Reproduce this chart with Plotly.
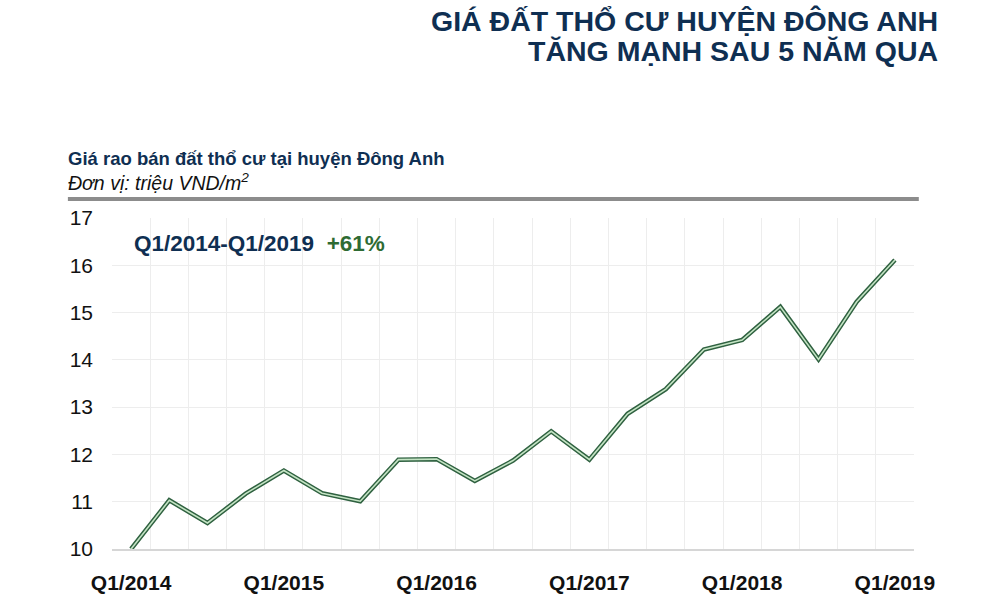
import plotly.graph_objects as go

# quarterly listing price, million VND per m2
quarters = [
    "Q1/2014", "Q2/2014", "Q3/2014", "Q4/2014",
    "Q1/2015", "Q2/2015", "Q3/2015", "Q4/2015",
    "Q1/2016", "Q2/2016", "Q3/2016", "Q4/2016",
    "Q1/2017", "Q2/2017", "Q3/2017", "Q4/2017",
    "Q1/2018", "Q2/2018", "Q3/2018", "Q4/2018",
    "Q1/2019",
]
price = [
    10.0, 11.03, 10.55, 11.17,
    11.66, 11.18, 11.01, 11.89,
    11.90, 11.44, 11.87, 12.49,
    11.89, 12.86, 13.38, 14.22,
    14.42, 15.12, 14.01, 15.23,
    16.11,
]
y_ticks = [10, 11, 12, 13, 14, 15, 16, 17]

title_lines = ["GIÁ ĐẤT THỔ CƯ HUYỆN ĐÔNG ANH", "TĂNG MẠNH SAU 5 NĂM QUA"]

NAVY = "#0f2f52"
FONT = "Liberation Sans, Arial, sans-serif"

# only the Q1 labels are shown
xlabels = [q if q.startswith("Q1") else "" for q in quarters]

fig = go.Figure()
# double line: dark outline + pale core
fig.add_trace(go.Scatter(x=quarters, y=price, mode="lines",
                         line=dict(color="#2f6140", width=4.5),
                         hoverinfo="skip", showlegend=False))
fig.add_trace(go.Scatter(x=quarters, y=price, mode="lines",
                         line=dict(color="#c4e4c4", width=1.6),
                         showlegend=False))

annots = []
for i, line in enumerate(title_lines):
    annots.append(dict(text=line, xref="paper", yref="paper", x=1.0, y=1.0,
                       xanchor="right", yanchor="middle",
                       xshift=26, yshift=197 - 30 * i, showarrow=False,
                       font=dict(size=28.5, color=NAVY, family=FONT, weight="bold")))

annots += [
    dict(text="Giá rao bán đất thổ cư tại huyện Đông Anh",
         xref="paper", yref="paper", x=0, y=1, xanchor="left", yanchor="middle",
         xshift=-46, yshift=60, showarrow=False,
         font=dict(size=18.5, color=NAVY, family=FONT, weight="bold")),
    dict(text="<i>Đơn vị: triệu VND/m<sup>2</sup></i>",
         xref="paper", yref="paper", x=0, y=1, xanchor="left", yanchor="middle",
         xshift=-46, yshift=36, showarrow=False,
         font=dict(size=19.5, color="#111111", family=FONT)),
    dict(text="<b>Q1/2014-Q1/2019</b>  <b><span style='color:#2e6b33'>+61%</span></b>",
         xref="paper", yref="paper", x=0, y=1, xanchor="left", yanchor="middle",
         xshift=20, yshift=-25, showarrow=False,
         font=dict(size=22.5, color=NAVY, family=FONT)),
]

fig.update_layout(
    width=1000, height=598,
    margin=dict(l=112, r=86, t=218, b=49),
    paper_bgcolor="white", plot_bgcolor="white",
    font=dict(family=FONT, color="#111111"),
    xaxis=dict(
        type="category", tickson="boundaries",
        tickvals=quarters, ticktext=xlabels,
        showgrid=True, gridcolor="#ededed", gridwidth=1,
        showline=True, linecolor="#d6d6d6", linewidth=1.5,
        ticks="", ticklabelstandoff=14, tickangle=0, automargin=False,
        tickfont=dict(size=21, color="#111111", family=FONT, weight="bold"),
        range=[-0.5, len(quarters) - 0.5],
    ),
    yaxis=dict(
        range=[10, 17], tickvals=y_ticks,
        showgrid=True, gridcolor="#ededed", gridwidth=1,
        zeroline=False, ticks="", ticklabelstandoff=18, automargin=False,
        tickfont=dict(size=21, color="#111111", family=FONT),
    ),
    annotations=annots,
    shapes=[
        dict(type="line", xref="paper", yref="paper", x0=-0.055, x1=1.006,
             y0=1.0574, y1=1.0574, line=dict(color="#8c8c8c", width=4)),
    ],
)

# drop the default page margin so the figure fills the window exactly
fig.write_html("out.html", config={"displayModeBar": False},
               post_script="document.body.style.margin='0px';")
